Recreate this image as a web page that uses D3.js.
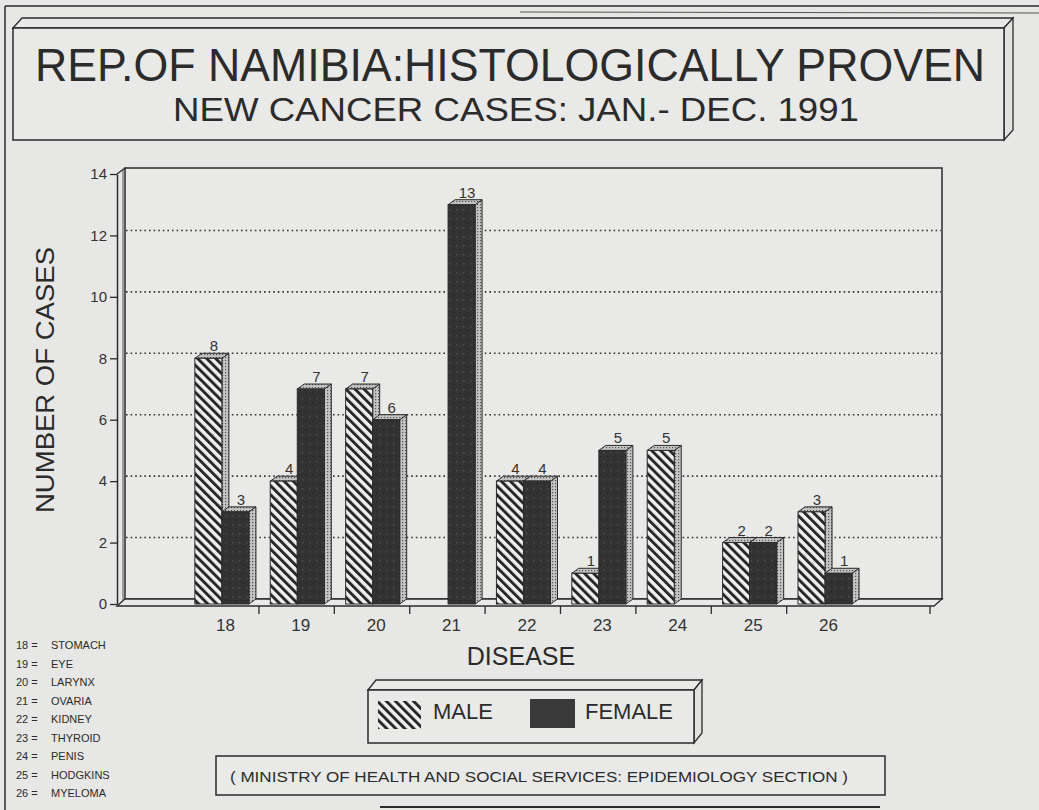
<!DOCTYPE html>
<html>
<head>
<meta charset="utf-8">
<script src="https://cdn.jsdelivr.net/npm/d3@7"></script>
<style>
  body { margin: 0; background: #e7e7e5; }
  svg { display: block; font-family: "Liberation Sans", Arial, sans-serif; }
</style>
</head>
<body>
<div class="content"></div>
<script>
// data
const categories = ['18', '19', '20', '21', '22', '23', '24', '25', '26']
const maleCases = [8, 4, 7, 0, 4, 1, 5, 2, 3]
const femaleCases = [3, 7, 6, 13, 4, 5, 0, 2, 1]
const yTicks = [0, 2, 4, 6, 8, 10, 12, 14]
const diseaseNames = ['STOMACH', 'EYE', 'LARYNX', 'OVARIA', 'KIDNEY', 'THYROID', 'PENIS', 'HODGKINS', 'MYELOMA']
const seriesNames = ['MALE', 'FEMALE']

const width = 1039
const height = 810
const ink = '#2b2b2b'
const dx = 7   // 3d depth, x
const dy = 5   // 3d depth, y

const svg = d3.select('div.content')
    .append('svg')
    .attr('width', width)
    .attr('height', height)

svg.append('rect')
    .attr('width', width)
    .attr('height', height)
    .attr('fill', '#e7e7e5')

// patterns
const defs = svg.append('defs')
const hatch = defs.append('pattern')
    .attr('id', 'hatch')
    .attr('patternUnits', 'userSpaceOnUse')
    .attr('width', 6.4)
    .attr('height', 6.4)
    .attr('patternTransform', 'rotate(-45)')
hatch.append('rect').attr('width', 6.4).attr('height', 6.4).attr('fill', '#efefed')
hatch.append('rect').attr('width', 2.9).attr('height', 6.4).attr('fill', '#262626')

const dark = defs.append('pattern')
    .attr('id', 'dark')
    .attr('patternUnits', 'userSpaceOnUse')
    .attr('width', 7)
    .attr('height', 9)
dark.append('rect').attr('width', 7).attr('height', 9).attr('fill', '#333333')
dark.append('rect').attr('x', 1).attr('y', 2).attr('width', 1.5).attr('height', 1.5).attr('fill', '#4d4d4d')
dark.append('rect').attr('x', 4.5).attr('y', 6).attr('width', 1.5).attr('height', 1.5).attr('fill', '#262626')

const stipple = defs.append('pattern')
    .attr('id', 'stipple')
    .attr('patternUnits', 'userSpaceOnUse')
    .attr('width', 3)
    .attr('height', 3)
stipple.append('rect').attr('width', 3).attr('height', 3).attr('fill', '#c4c4c2')
stipple.append('rect').attr('width', 1.2).attr('height', 1.2).attr('fill', '#555')

// page edges of the scan
svg.append('line').attr('x1', 5).attr('y1', 6).attr('x2', width).attr('y2', 6)
    .attr('stroke', ink).attr('stroke-width', 1.5)
svg.append('line').attr('x1', 520).attr('y1', 12).attr('x2', width).attr('y2', 13)
    .attr('stroke', '#555').attr('stroke-width', 1)
svg.append('line').attr('x1', 5).attr('y1', 6).attr('x2', 5).attr('y2', height)
    .attr('stroke', ink).attr('stroke-width', 1.5)
svg.append('line').attr('x1', 380).attr('y1', 807).attr('x2', 880).attr('y2', 807)
    .attr('stroke', ink).attr('stroke-width', 2)

// 3d box helper: front face + top face + right face
function box3d(g, x0, y0, x1, y1, ox, oy) {
    g.append('path')
        .attr('d', `M${x0},${y0} L${x0 + ox},${y0 - oy} L${x1 + ox},${y0 - oy} L${x1},${y0} Z`)
        .attr('fill', '#e9e9e7').attr('stroke', ink).attr('stroke-width', 1.3)
    g.append('path')
        .attr('d', `M${x1},${y0} L${x1 + ox},${y0 - oy} L${x1 + ox},${y1 - oy} L${x1},${y1} Z`)
        .attr('fill', '#e2e2e0').attr('stroke', ink).attr('stroke-width', 1.3)
    g.append('rect')
        .attr('x', x0).attr('y', y0)
        .attr('width', x1 - x0).attr('height', y1 - y0)
        .attr('fill', '#e9e9e7').attr('stroke', ink).attr('stroke-width', 1.5)
}

// title box
const titleG = svg.append('g')
box3d(titleG, 13, 28, 1004, 140, 9, 10)
titleG.append('text')
    .attr('x', 510).attr('y', 81)
    .attr('text-anchor', 'middle')
    .attr('font-size', 47)
    .attr('fill', ink)
    .attr('textLength', 950)
    .attr('lengthAdjust', 'spacingAndGlyphs')
    .text('REP.OF NAMIBIA:HISTOLOGICALLY PROVEN')
titleG.append('text')
    .attr('x', 516).attr('y', 121)
    .attr('text-anchor', 'middle')
    .attr('font-size', 33)
    .attr('fill', ink)
    .attr('textLength', 686)
    .attr('lengthAdjust', 'spacingAndGlyphs')
    .text('NEW CANCER CASES: JAN.- DEC.  1991')

// scales
const x = d3.scaleBand()
    .domain(categories)
    .range([127, 942])
    .paddingInner(0.19)
    .paddingOuter(1)
    .align(0.45)
const y = d3.scaleLinear()
    .domain([0, 14])
    .range([604, 174])
const barW = (x.bandwidth() - dx) / 2

// back wall and floor
const plot = svg.append('g')
plot.append('rect')
    .attr('x', 125).attr('y', y(14) - 6)
    .attr('width', 942 - 125).attr('height', y(0) - 5 - (y(14) - 6))
    .attr('fill', '#e9e9e7').attr('stroke', ink).attr('stroke-width', 1.5)
plot.append('path')
    .attr('d', `M117,${y(0) + 2} L125,${y(0) - 5} L942,${y(0) - 5} L934,${y(0) + 2} Z`)
    .attr('fill', '#e9e9e7').attr('stroke', ink).attr('stroke-width', 1.3)
plot.append('line')
    .attr('x1', 123).attr('y1', y(14) - 4).attr('x2', 123).attr('y2', y(0) - 3)
    .attr('stroke', '#555').attr('stroke-width', 1)

// gridlines
plot.selectAll('line.grid')
    .data(yTicks.filter(d => d > 0 && d < 14))
    .join('line')
    .attr('class', 'grid')
    .attr('x1', 126).attr('x2', 941)
    .attr('y1', d => y(d) - 5).attr('y2', d => y(d) - 5)
    .attr('stroke', '#333').attr('stroke-width', 1.6)
    .attr('stroke-dasharray', '1.6,3')

// y axis (front edge)
const yAxis = plot.append('g')
    .attr('transform', 'translate(117,0)')
    .call(d3.axisLeft(y).tickValues(yTicks).tickSize(7).tickPadding(3).tickSizeOuter(0))
yAxis.select('.domain').attr('stroke', ink).attr('stroke-width', 1.5)
yAxis.selectAll('.tick line').attr('stroke', ink).attr('stroke-width', 1.3)
yAxis.selectAll('.tick text')
    .attr('font-size', 15)
    .attr('fill', '#333')
    .attr('font-family', '"Liberation Sans", Arial, sans-serif')
plot.append('line')
    .attr('x1', 117).attr('y1', y(14)).attr('x2', 125).attr('y2', y(14) - 6)
    .attr('stroke', ink).attr('stroke-width', 1.3)

// floor ticks between categories
const floorTicks = categories.slice(0, -1).map(c => x(c) + x.bandwidth() + 3).concat([930])
plot.selectAll('line.ftick')
    .data(floorTicks)
    .join('line')
    .attr('class', 'ftick')
    .attr('x1', d => d).attr('x2', d => d)
    .attr('y1', y(0) + 2).attr('y2', y(0) + 10)
    .attr('stroke', ink).attr('stroke-width', 1.3)

// bars
function bar3d(g, x0, v, fill) {
    const x1 = x0 + barW
    const top = y(v)
    const base = y(0)
    g.append('path')
        .attr('d', `M${x1},${top} L${x1 + dx},${top - dy} L${x1 + dx},${base - dy} L${x1},${base} Z`)
        .attr('fill', 'url(#stipple)').attr('stroke', ink).attr('stroke-width', 1)
    g.append('path')
        .attr('d', `M${x0},${top} L${x0 + dx},${top - dy} L${x1 + dx},${top - dy} L${x1},${top} Z`)
        .attr('fill', 'url(#stipple)').attr('stroke', ink).attr('stroke-width', 1)
    g.append('rect')
        .attr('x', x0).attr('y', top)
        .attr('width', barW).attr('height', base - top)
        .attr('fill', fill).attr('stroke', ink).attr('stroke-width', 1)
}

const bars = plot.append('g')
categories.forEach((c, i) => {
    const g = bars.append('g')
    if (maleCases[i] > 0) bar3d(g, x(c), maleCases[i], 'url(#hatch)')
    if (femaleCases[i] > 0) bar3d(g, x(c) + barW, femaleCases[i], 'url(#dark)')
})

// value labels
const labelData = []
categories.forEach((c, i) => {
    if (maleCases[i] > 0) labelData.push({ x: x(c) + barW / 2 + dx / 2 + 2, v: maleCases[i] })
    if (femaleCases[i] > 0) labelData.push({ x: x(c) + barW + barW / 2 + dx / 2 + 2, v: femaleCases[i] })
})
plot.selectAll('text.vlabel')
    .data(labelData)
    .join('text')
    .attr('class', 'vlabel')
    .attr('x', d => d.x)
    .attr('y', d => y(d.v) - dy - 2)
    .attr('text-anchor', 'middle')
    .attr('font-size', 15)
    .attr('fill', '#333')
    .text(d => d.v)

// category labels
plot.selectAll('text.xlabel')
    .data(categories)
    .join('text')
    .attr('class', 'xlabel')
    .attr('x', d => x(d) + x.bandwidth() / 2)
    .attr('y', 631)
    .attr('text-anchor', 'middle')
    .attr('font-size', 17)
    .attr('fill', '#333')
    .text(d => d)

// axis titles
svg.append('text')
    .attr('transform', 'translate(54,380) rotate(-90)')
    .attr('text-anchor', 'middle')
    .attr('font-size', 25)
    .attr('fill', ink)
    .attr('textLength', 266)
    .attr('lengthAdjust', 'spacingAndGlyphs')
    .text('NUMBER OF CASES')
svg.append('text')
    .attr('x', 521).attr('y', 665)
    .attr('text-anchor', 'middle')
    .attr('font-size', 25)
    .attr('fill', ink)
    .text('DISEASE')

// legend box
const legend = svg.append('g')
box3d(legend, 368, 690, 694, 743, 8, 10)
legend.append('rect')
    .attr('x', 378).attr('y', 701).attr('width', 43).attr('height', 28)
    .attr('fill', 'url(#hatch)')
legend.append('rect')
    .attr('x', 530).attr('y', 699).attr('width', 45).attr('height', 29)
    .attr('fill', '#3a3a3a')
legend.selectAll('text.leg')
    .data(seriesNames)
    .join('text')
    .attr('class', 'leg')
    .attr('x', (d, i) => i === 0 ? 433 : 585)
    .attr('y', 719)
    .attr('font-size', 22)
    .attr('fill', ink)
    .text(d => d)

// disease key
const key = svg.append('g')
    .attr('font-size', 11)
    .attr('fill', ink)
key.selectAll('text.knum')
    .data(categories)
    .join('text')
    .attr('class', 'knum')
    .attr('x', 16)
    .attr('y', (d, i) => 649 + i * 18.5)
    .text(d => d + ' =')
key.selectAll('text.kname')
    .data(diseaseNames)
    .join('text')
    .attr('class', 'kname')
    .attr('x', 51)
    .attr('y', (d, i) => 649 + i * 18.5)
    .text(d => d)

// source box
svg.append('rect')
    .attr('x', 216).attr('y', 756).attr('width', 669).attr('height', 39)
    .attr('fill', '#e9e9e7').attr('stroke', ink).attr('stroke-width', 1.5)
svg.append('text')
    .attr('x', 539).attr('y', 782)
    .attr('text-anchor', 'middle')
    .attr('font-size', 15.5)
    .attr('fill', ink)
    .attr('textLength', 618)
    .attr('lengthAdjust', 'spacingAndGlyphs')
    .text('( MINISTRY OF HEALTH AND SOCIAL  SERVICES:  EPIDEMIOLOGY SECTION )')
</script>
</body>
</html>
